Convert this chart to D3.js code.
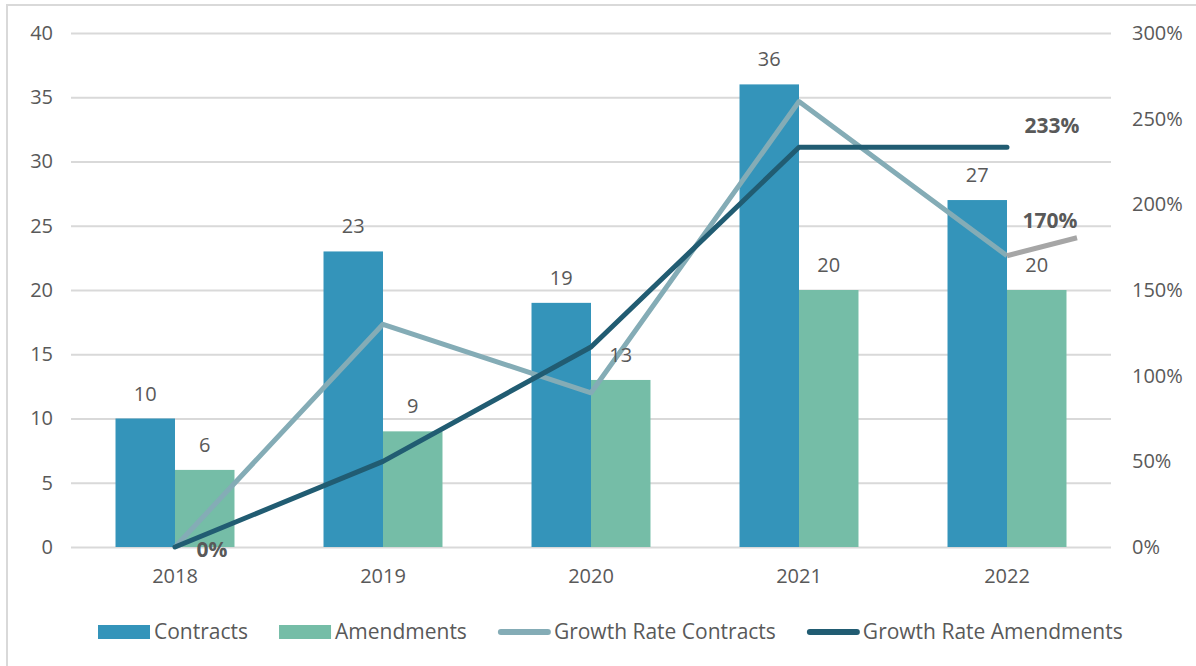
<meta charset="utf-8">
<script src="https://d3js.org/d3.v7.min.js"></script>
<style>
  body { margin: 0; background: #fff; }
  text { font-family: "Open Sans", sans-serif; fill: #595959; }
</style>
<div id="chart"></div>

<script>
// data
const years = ["2018", "2019", "2020", "2021", "2022"]
const contracts = [10, 23, 19, 36, 27]
const amendments = [6, 9, 13, 20, 20]
const growthContracts = [0, 130, 90, 260, 170]      // %
const growthAmendments = [0, 50, 116.7, 233.3, 233.3] // %
const leftTicks = [0, 5, 10, 15, 20, 25, 30, 35, 40]
const rightTicks = [0, 50, 100, 150, 200, 250, 300]

const width = 1196
const height = 666
const margin = {top: 33, right: 85, bottom: 119, left: 71}

const blue = "#3494ba", green = "#75bda7"
const lightLine = "#84acb6", darkLine = "#215c72"

const svg = d3.select("#chart").append("svg")
  .attr("width", width)
  .attr("height", height)

// outer frame
svg.append("rect")
  .attr("x", 7).attr("y", 5)
  .attr("width", 1200).attr("height", 700)
  .attr("fill", "none")
  .attr("stroke", "#d9d9d9")
  .attr("stroke-width", 2)

const x0 = d3.scaleBand()
  .domain(years)
  .range([margin.left, width - margin.right])
  .paddingInner(0.428)
  .paddingOuter(0.214)

const x1 = d3.scaleBand()
  .domain(["c", "a"])
  .range([0, x0.bandwidth()])

const y = d3.scaleLinear().domain([0, 40]).range([height - margin.bottom, margin.top])
const y2 = d3.scaleLinear().domain([0, 300]).range([height - margin.bottom, margin.top])

// gridlines + left axis
const yAxis = svg.append("g")
  .attr("transform", "translate(" + margin.left + ",0)")
  .call(d3.axisLeft(y).tickValues(leftTicks).tickSize(-(width - margin.left - margin.right)).tickPadding(18))
yAxis.select(".domain").remove()
yAxis.selectAll("line").attr("stroke", "#d9d9d9").attr("stroke-width", 2)
yAxis.selectAll("text").style("font-size", "20px").style("fill", "#595959")

const yAxis2 = svg.append("g")
  .attr("transform", "translate(" + (width - margin.right) + ",0)")
  .call(d3.axisRight(y2).tickValues(rightTicks).tickSize(0).tickPadding(21).tickFormat(d => d + "%"))
yAxis2.select(".domain").remove()
yAxis2.selectAll("text").style("font-size", "20px").style("fill", "#595959")

const xAxis = svg.append("g")
  .attr("transform", "translate(0," + (height - margin.bottom) + ")")
  .call(d3.axisBottom(x0).tickSize(0).tickPadding(22))
xAxis.select(".domain").remove()
xAxis.selectAll("text").style("font-size", "20px").style("fill", "#595959")

// bars
const rows = years.map((yr, i) => ({year: yr, c: contracts[i], a: amendments[i]}))
const barVals = d => [{k: "c", v: d.c}, {k: "a", v: d.a}]

const groups = svg.selectAll(".grp")
  .data(rows)
  .enter().append("g")
  .attr("transform", d => "translate(" + x0(d.year) + ",0)")

groups.selectAll("rect")
  .data(barVals)
  .enter().append("rect")
  .attr("x", d => x1(d.k))
  .attr("y", d => y(d.v))
  .attr("width", x1.bandwidth())
  .attr("height", d => y(0) - y(d.v))
  .attr("fill", d => d.k == "c" ? blue : green)

// growth lines
const cx = d => x0(d) + x0.bandwidth() / 2
const line = d3.line().x(d => cx(d[0])).y(d => y2(d[1]))

svg.append("path")
  .datum(years.map((yr, i) => [yr, growthContracts[i]]))
  .attr("d", line)
  .attr("fill", "none")
  .attr("stroke", lightLine)
  .attr("stroke-width", 5)
  .attr("stroke-linejoin", "round")

svg.append("path")
  .datum(years.map((yr, i) => [yr, growthAmendments[i]]))
  .attr("d", line)
  .attr("fill", "none")
  .attr("stroke", darkLine)
  .attr("stroke-width", 5)
  .attr("stroke-linejoin", "round")
  .attr("stroke-linecap", "round")

// leader line for the 170% label
const last = years.length - 1
svg.append("line")
  .attr("x1", cx(years[last])).attr("y1", y2(growthContracts[last]))
  .attr("x2", cx(years[last]) + 70).attr("y2", y2(growthContracts[last]) - 18)
  .attr("stroke", "#a6a6a6")
  .attr("stroke-width", 5)

// bar value labels, drawn above the lines
const labelGroups = svg.selectAll(".lblgrp")
  .data(rows)
  .enter().append("g")
  .attr("transform", d => "translate(" + x0(d.year) + ",0)")

labelGroups.selectAll("text")
  .data(barVals)
  .enter().append("text")
  .attr("x", d => x1(d.k) + x1.bandwidth() / 2)
  .attr("y", d => y(d.v) - 18)
  .attr("text-anchor", "middle")
  .style("font-size", "20px")
  .text(d => d.v)

// bold percentage labels
const pctLabels = [
  {x: cx(years[0]) + 37, y: y2(0) + 3, t: growthAmendments[0].toFixed(0) + "%"},
  {x: cx(years[last]) + 45, y: y2(growthAmendments[last]) - 22, t: growthAmendments[last].toFixed(0) + "%"},
  {x: cx(years[last]) + 43, y: y2(growthContracts[last]) - 35, t: growthContracts[last].toFixed(0) + "%"}
]
svg.selectAll(".pct")
  .data(pctLabels)
  .enter().append("text")
  .attr("x", d => d.x)
  .attr("y", d => d.y)
  .attr("dy", "0.35em")
  .attr("text-anchor", "middle")
  .style("font-size", "21px")
  .style("font-weight", "bold")
  .text(d => d.t)

// legend
const legendItems = [
  {name: "Contracts", type: "rect", color: blue},
  {name: "Amendments", type: "rect", color: green},
  {name: "Growth Rate Contracts", type: "line", color: lightLine},
  {name: "Growth Rate Amendments", type: "line", color: darkLine}
]
let lx = 98
const ly = 632
legendItems.forEach(it => {
  if (it.type == "rect") {
    svg.append("rect").attr("x", lx).attr("y", ly - 7).attr("width", 52).attr("height", 14).attr("fill", it.color)
  } else {
    svg.append("line").attr("x1", lx + 3).attr("x2", lx + 50).attr("y1", ly).attr("y2", ly)
      .attr("stroke", it.color).attr("stroke-width", 6).attr("stroke-linecap", "round")
  }
  const t = svg.append("text").attr("x", lx + 56).attr("y", ly).attr("dy", "0.35em")
    .style("font-size", "21px").text(it.name)
  lx += 56 + t.node().getComputedTextLength() + 31
})
</script>
